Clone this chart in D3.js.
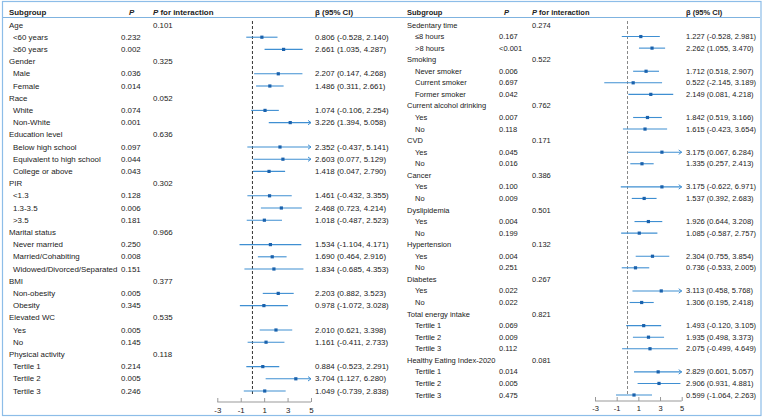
<!DOCTYPE html>
<html>
<head>
<meta charset="utf-8">
<script src="https://cdn.jsdelivr.net/npm/d3@7"></script>
<style>
  body { margin: 0; background: #fff; }
  svg { display: block; font-family: "Liberation Sans", Arial, sans-serif; }
</style>
</head>
<body>
<div id="chart"></div>
<script>
// ---- data: left panel (null = group header row) ----
const leftLabels = ["Age", "<60 years", "≥60 years", "Gender", "Male", "Female", "Race", "White", "Non-White",
  "Education level", "Below high school", "Equivalent to high school", "College or above",
  "PIR", "<1.3", "1.3-3.5", ">3.5", "Marital status", "Never married", "Married/Cohabiting", "Widowed/Divorced/Separated",
  "BMI", "Non-obesity", "Obesity", "Elevated WC", "Yes", "No", "Physical activity", "Tertile 1", "Tertile 2", "Tertile 3"];
const leftP = [null, "0.232", "0.002", null, "0.036", "0.014", null, "0.074", "0.001",
  null, "0.097", "0.044", "0.043", null, "0.128", "0.006", "0.181", null, "0.250", "0.008", "0.151",
  null, "0.005", "0.345", null, "0.005", "0.145", null, "0.214", "0.005", "0.246"];
const leftPint = ["0.101", null, null, "0.325", null, null, "0.052", null, null,
  "0.636", null, null, null, "0.302", null, null, null, "0.966", null, null, null,
  "0.377", null, null, "0.535", null, null, "0.118", null, null, null];
const leftBeta = [null, 0.806, 2.661, null, 2.207, 1.486, null, 1.074, 3.226,
  null, 2.352, 2.603, 1.418, null, 1.461, 2.468, 1.018, null, 1.534, 1.690, 1.834,
  null, 2.203, 0.978, null, 2.010, 1.161, null, 0.884, 3.704, 1.049];
const leftLow = [null, -0.528, 1.035, null, 0.147, 0.311, null, -0.106, 1.394,
  null, -0.437, 0.077, 0.047, null, -0.432, 0.723, -0.487, null, -1.104, 0.464, -0.685,
  null, 0.882, -1.072, null, 0.621, -0.411, null, -0.523, 1.127, -0.739];
const leftHigh = [null, 2.140, 4.287, null, 4.268, 2.661, null, 2.254, 5.058,
  null, 5.141, 5.129, 2.790, null, 3.355, 4.214, 2.523, null, 4.171, 2.916, 4.353,
  null, 3.523, 3.028, null, 3.398, 2.733, null, 2.291, 6.280, 2.838];

// ---- data: right panel ----
const rightLabels = ["Sedentary time", "≤8 hours", ">8 hours", "Smoking", "Never smoker", "Current smoker", "Former smoker",
  "Current alcohol drinking", "Yes", "No", "CVD", "Yes", "No", "Cancer", "Yes", "No",
  "Dyslipidemia", "Yes", "No", "Hypertension", "Yes", "No", "Diabetes", "Yes", "No",
  "Total energy intake", "Tertile 1", "Tertile 2", "Tertile 3", "Healthy Eating Index-2020", "Tertile 1", "Tertile 2", "Tertile 3"];
const rightP = [null, "0.167", "<0.001", null, "0.006", "0.697", "0.042", null, "0.007", "0.118",
  null, "0.045", "0.016", null, "0.100", "0.009", null, "0.004", "0.199", null, "0.004", "0.251",
  null, "0.022", "0.022", null, "0.069", "0.009", "0.112", null, "0.014", "0.005", "0.475"];
const rightPint = ["0.274", null, null, "0.522", null, null, null, "0.762", null, null,
  "0.171", null, null, "0.386", null, null, "0.501", null, null, "0.132", null, null,
  "0.267", null, null, "0.821", null, null, null, "0.081", null, null, null];
const rightBeta = [null, 1.227, 2.262, null, 1.712, 0.522, 2.149, null, 1.842, 1.615,
  null, 3.175, 1.335, null, 3.175, 1.537, null, 1.926, 1.085, null, 2.304, 0.736,
  null, 3.113, 1.306, null, 1.493, 1.935, 2.075, null, 2.829, 2.906, 0.599];
const rightLow = [null, -0.528, 1.055, null, 0.518, -2.145, 0.081, null, 0.519, -0.423,
  null, 0.067, 0.257, null, -0.622, 0.392, null, 0.644, -0.587, null, 0.755, -0.533,
  null, 0.458, 0.195, null, -0.120, 0.498, -0.499, null, 0.601, 0.931, -1.064];
const rightHigh = [null, 2.981, 3.470, null, 2.907, 3.189, 4.218, null, 3.166, 3.654,
  null, 6.284, 2.413, null, 6.971, 2.683, null, 3.208, 2.757, null, 3.854, 2.005,
  null, 5.768, 2.418, null, 3.105, 3.373, 4.649, null, 5.057, 4.881, 2.263];

const tickValues = [-3, -1, 1, 3, 5];
const xDomain = [-3, 5];

const W = 764, H = 420;
const lineColor = "#3f8fd2", markColor = "#1a62ad", textColor = "#222";

const svg = d3.select('#chart').append('svg')
  .attr('width', W).attr('height', H);

// outer frame
svg.append('rect')
  .attr('x', 2.5).attr('y', 1.5).attr('width', 758.5).attr('height', 414)
  .attr('fill', 'none').attr('stroke', '#8dbde8').attr('stroke-width', 1.2);

// plain hyphen for negatives, like the original table
function fmt(v) { return v.toFixed(3); }

function drawPanel(cfg) {
  const g = svg.append('g');
  const n = cfg.labels.length;
  const y = d3.scaleLinear().domain([0, n - 1]).range([cfg.rowTop, cfg.rowBottom]);
  const x = d3.scaleLinear().domain(xDomain).range([cfg.plotLeft, cfg.plotRight]);
  const fs = cfg.fontSize;

  // header
  const hy = cfg.headerY;
  const hdr = g.append('g').attr('font-weight', 'bold').attr('font-size', fs).attr('fill', textColor);
  hdr.append('text').attr('x', cfg.labelX).attr('y', hy).text('Subgroup');
  hdr.append('text').attr('x', cfg.pHeadX).attr('y', hy).attr('font-style', 'italic').text('P');
  const pi = hdr.append('text').attr('x', cfg.pintX).attr('y', hy);
  pi.append('tspan').attr('font-style', 'italic').text('P');
  pi.append('tspan').text(' for interaction');
  hdr.append('text').attr('x', cfg.betaX).attr('y', hy).text('β (95% CI)');

  g.append('line')
    .attr('x1', cfg.lineX1).attr('x2', cfg.lineX2)
    .attr('y1', cfg.headerLineY).attr('y2', cfg.headerLineY)
    .attr('stroke', '#7fb3e0').attr('stroke-width', 1);

  // reference line at 0
  g.append('line')
    .attr('x1', x(0)).attr('x2', x(0))
    .attr('y1', cfg.rowTop - 4).attr('y2', cfg.axisY - 6)
    .attr('stroke', cfg.refColor).attr('stroke-width', 1)
    .attr('stroke-dasharray', '3,2');

  const rows = d3.range(n);
  const txt = g.append('g').attr('font-size', fs).attr('fill', textColor)
    .attr('dominant-baseline', 'central');

  txt.selectAll('.lab').data(rows).join('text')
    .attr('x', i => cfg.beta[i] === null ? cfg.labelX : cfg.indentX)
    .attr('y', i => y(i))
    .text(i => cfg.labels[i]);

  txt.selectAll('.p').data(rows.filter(i => cfg.p[i] !== null)).join('text')
    .attr('x', cfg.pX).attr('y', i => y(i)).text(i => cfg.p[i]);

  txt.selectAll('.pint').data(rows.filter(i => cfg.pint[i] !== null)).join('text')
    .attr('x', cfg.pintX).attr('y', i => y(i)).text(i => cfg.pint[i]);

  const subRows = rows.filter(i => cfg.beta[i] !== null);

  txt.selectAll('.ci').data(subRows).join('text')
    .attr('x', cfg.betaX).attr('y', i => y(i))
    .text(i => `${fmt(cfg.beta[i])} (${fmt(cfg.low[i])}, ${fmt(cfg.high[i])})`);

  // CI lines, clipped at axis max with arrow
  const xmax = xDomain[1];
  g.selectAll('.cil').data(subRows).join('line')
    .attr('x1', i => x(Math.max(cfg.low[i], xDomain[0])))
    .attr('x2', i => x(Math.min(cfg.high[i], xmax)))
    .attr('y1', i => y(i)).attr('y2', i => y(i))
    .attr('stroke', lineColor).attr('stroke-width', 1.1);

  g.selectAll('.arr').data(subRows.filter(i => cfg.high[i] > xmax)).join('path')
    .attr('d', i => {
      const ax = x(xmax), ay = y(i);
      return `M${ax - 3},${ay - 2.2}L${ax},${ay}L${ax - 3},${ay + 2.2}`;
    })
    .attr('fill', 'none').attr('stroke', lineColor).attr('stroke-width', 1);

  g.selectAll('.pt').data(subRows).join('rect')
    .attr('x', i => x(cfg.beta[i]) - 1.6)
    .attr('y', i => y(i) - 1.6)
    .attr('width', 3.2).attr('height', 3.2)
    .attr('fill', markColor);

  // axis
  const axis = g.append('g')
    .attr('transform', `translate(0,${cfg.axisY})`)
    .call(d3.axisTop(x).tickValues(tickValues).tickSize(4).tickFormat(d3.format('d')));
  axis.select('.domain').attr('stroke', '#999').attr('d', `M${x(xDomain[0])},0H${x(xDomain[1])}`);
  axis.selectAll('.tick line').attr('stroke', '#999');
  axis.selectAll('.tick text')
    .attr('y', 8).attr('dy', '0.32em')
    .attr('font-size', fs).attr('fill', textColor)
    .attr('font-family', '"Liberation Sans", Arial, sans-serif')
    .text(d => d < 0 ? '-' + Math.abs(d) : d);
}

drawPanel({
  labels: leftLabels, p: leftP, pint: leftPint, beta: leftBeta, low: leftLow, high: leftHigh,
  fontSize: 7.9, headerY: 15, headerLineY: 17.5, lineX1: 3, lineX2: 385,
  rowTop: 25, rowBottom: 391, labelX: 9, indentX: 13, pX: 121, pHeadX: 129, pintX: 153, betaX: 315,
  plotLeft: 217.3, plotRight: 311, axisY: 402, refColor: '#333'
});

drawPanel({
  labels: rightLabels, p: rightP, pint: rightPint, beta: rightBeta, low: rightLow, high: rightHigh,
  fontSize: 7.5, headerY: 15, headerLineY: 17.5, lineX1: 385, lineX2: 760,
  rowTop: 25, rowBottom: 395, labelX: 407, indentX: 415, pX: 499, pHeadX: 504, pintX: 532, betaX: 686,
  plotLeft: 595, plotRight: 681.7, axisY: 401, refColor: '#888'
});
</script>
</body>
</html>
